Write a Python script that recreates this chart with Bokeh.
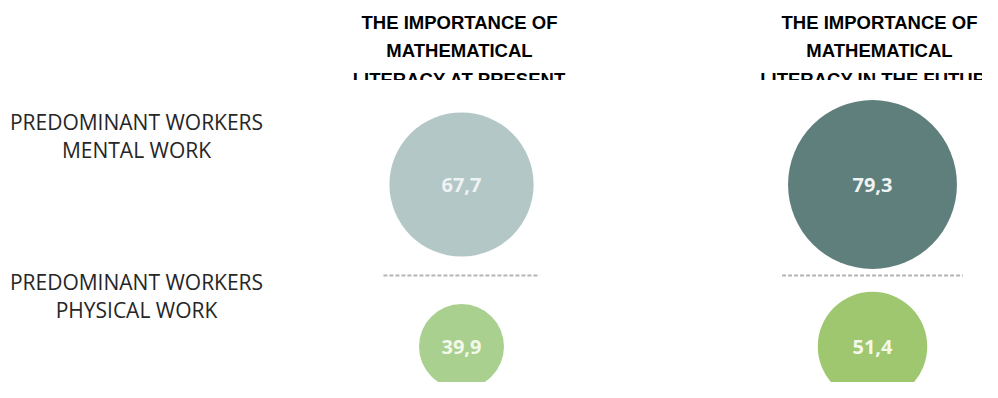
from bokeh.plotting import figure
from bokeh.models import Range1d, ColumnDataSource
from bokeh.layouts import column
from bokeh.embed import file_html
from bokeh.resources import INLINE
from bokeh.core.properties import value

# ---------------- data ----------------
column_keys = ["present", "future"]
column_titles = [
    ["THE IMPORTANCE OF", "MATHEMATICAL", "LITERACY AT PRESENT"],
    ["THE IMPORTANCE OF", "MATHEMATICAL", "LITERACY IN THE FUTURE"],
]
row_keys = ["mental", "physical"]
row_labels = [
    ["PREDOMINANT WORKERS", "MENTAL WORK"],
    ["PREDOMINANT WORKERS", "PHYSICAL WORK"],
]
present_values = [67.7, 39.9]   # mental, physical
future_values = [79.3, 51.4]    # mental, physical

# ---------------- layout / style ----------------
W, H_TOP, H_MAIN = 982, 80, 302
col_x = {"present": 461, "future": 872}
title_x = {"present": 459, "future": 879}
title_first_mid = 21.5
title_step = 28.5
row_y = {"mental": 184, "physical": 346}
label_x = 136
label_first_mid = {"mental": 121, "physical": 281}
label_step = 28.5
sep_y = 275
sep_pad = 6
px_per_unit = 1.065  # radius in px per value unit

fill = {
    ("present", "mental"): "#b4c7c7",
    ("future", "mental"): "#5f7f7c",
    ("present", "physical"): "#a9d08e",
    ("future", "physical"): "#9fc76f",
}
txt_col = {"mental": "#eef3f3", "physical": "#f3f8ea"}


def base_fig(h, y0):
    p = figure(width=W, height=h, output_backend="svg", toolbar_location=None,
               x_range=Range1d(0, W),
               y_range=Range1d(y0 + h, y0),
               x_axis_location=None, y_axis_location=None,
               min_border=0, min_border_left=0, min_border_right=0,
               min_border_top=0, min_border_bottom=0)
    p.grid.visible = False
    p.outline_line_color = None
    p.background_fill_color = "white"
    p.border_fill_color = "white"
    return p


# ---------------- titles figure ----------------
pt = base_fig(H_TOP, 0)
tx, ty, tt = [], [], []
for key, lines in zip(column_keys, column_titles):
    for i, line in enumerate(lines):
        tx.append(title_x[key])
        ty.append(title_first_mid + i * title_step)
        tt.append(line)
pt.text(x=tx, y=ty, text=tt,
        text_align="center", text_baseline="middle",
        text_font=value("Liberation Sans"), text_font_style="bold",
        text_font_size="18.5px", text_color="#000000")

# ---------------- main figure ----------------
pm = base_fig(H_MAIN, H_TOP)

# row labels
lx, ly, lt = [], [], []
for key, lines in zip(row_keys, row_labels):
    for i, line in enumerate(lines):
        lx.append(label_x)
        ly.append(label_first_mid[key] + i * label_step)
        lt.append(line)
pm.text(x=lx, y=ly, text=lt, text_align="center", text_baseline="middle",
        text_font=value("Open Sans"), text_font_size="21px", text_color="#262626")

# bubbles
cx, cy, cr, cf, cl, ct = [], [], [], [], [], []
for ckey, vals in zip(column_keys, [present_values, future_values]):
    for rkey, v in zip(row_keys, vals):
        cx.append(col_x[ckey])
        cy.append(row_y[rkey])
        cr.append(v * px_per_unit)
        cf.append(fill[(ckey, rkey)])
        cl.append(f"{v:.1f}".replace(".", ","))
        ct.append(txt_col[rkey])
src = ColumnDataSource(dict(x=cx, y=cy, r=cr, fill=cf, label=cl, tcol=ct))
pm.circle(x="x", y="y", radius="r", fill_color="fill", line_color=None, source=src)
pm.text(x="x", y="y", text="label", text_color="tcol", source=src,
        text_align="center", text_baseline="middle",
        text_font=value("Open Sans"), text_font_style="bold", text_font_size="20px")

# dashed separators (span of top-row bubble)
sx0, sx1, sy = [], [], []
for ckey, vals in zip(column_keys, [present_values, future_values]):
    half = vals[0] * px_per_unit + sep_pad
    sx0.append(col_x[ckey] - half)
    sx1.append(col_x[ckey] + half)
    sy.append(sep_y)
pm.segment(x0=sx0, y0=sy, x1=sx1, y1=sy, line_color="#b5b5b5",
           line_width=2, line_dash="4 2")

layout = column(pt, pm, spacing=0)
open("out.html", "w").write(file_html(layout, INLINE))
